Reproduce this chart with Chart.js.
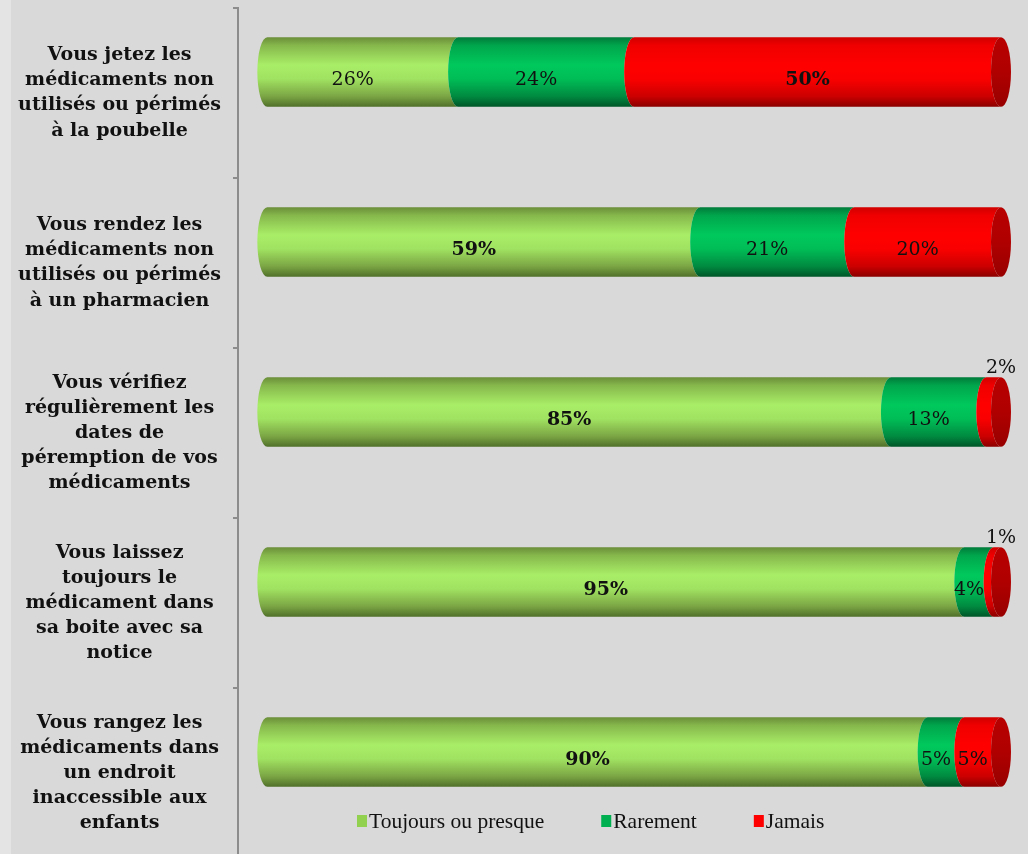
<!DOCTYPE html>
<html lang="fr">
<head>
<meta charset="utf-8">
<title>Médicaments non utilisés</title>
<script src="https://cdn.jsdelivr.net/npm/chart.js@4.4.1/dist/chart.umd.min.js"></script>
<style>
  html, body { margin: 0; padding: 0; overflow: hidden; }
  body { width: 1028px; height: 854px; background: linear-gradient(to right, #e4e4e4 0, #e4e4e4 11px, #d9d9d9 11px); }
  #wrap { position: absolute; left: 0; top: 0; width: 1028px; height: 870px; }
</style>
</head>
<body>
<div id="wrap"><canvas id="chart" width="1028" height="870"></canvas></div>
<script>
// Survey questions (one per bar), split into display lines
const categories = [
  ['Vous jetez les', 'médicaments non', 'utilisés ou périmés', 'à la poubelle'],
  ['Vous rendez les', 'médicaments non', 'utilisés ou périmés', 'à un pharmacien'],
  ['Vous vérifiez', 'régulièrement les', 'dates de', 'péremption de vos', 'médicaments'],
  ['Vous laissez', 'toujours le', 'médicament dans', 'sa boite avec sa', 'notice'],
  ['Vous rangez les', 'médicaments dans', 'un endroit', 'inaccessible aux', 'enfants']
];
const seriesNames = ['Toujours ou presque', 'Rarement', 'Jamais'];
const toujours = [26, 59, 85, 95, 90];
const rarement = [24, 21, 13, 4, 5];
const jamais   = [50, 20, 2, 1, 5];

// Flat colours (legend keys) and cylinder shading per series
const flatColors = ['#92d050', '#00b050', '#ff0000'];
const shades = [
  [[0, '#6a8d39'], [0.12, '#86b84c'], [0.4, '#a9ee67'], [0.6, '#a0e261'], [0.85, '#7ba544'], [1, '#4f6f29']],
  [[0, '#007a3a'], [0.12, '#00a64c'], [0.4, '#00c95c'], [0.6, '#00bd56'], [0.85, '#008a40'], [1, '#005528']],
  [[0, '#d00000'], [0.12, '#f00000'], [0.4, '#ff0000'], [0.6, '#fa0000'], [0.85, '#cc0000'], [1, '#8a0000']]
];
const capShade = [[0, '#b80000'], [0.5, '#b00000'], [1, '#980000']];

const RX = 10;      // horizontal radius of the cylinder ellipses
const DEPTH = 21;   // upward shift of the bars (3D depth)

const cylinderBars = {
  id: 'cylinderBars',
  beforeDatasetsDraw(chart) {
    const ctx = chart.ctx;
    const last = chart.data.datasets.length - 1;
    const labels = [];
    ctx.save();
    chart.data.datasets.forEach((ds, di) => {
      const meta = chart.getDatasetMeta(di);
      meta.data.forEach((el, i) => {
        const p = el.getProps(['x', 'y', 'base', 'height'], true);
        const cy = p.y - DEPTH, ry = p.height / 2;
        const top = cy - ry, bot = cy + ry;
        const g = ctx.createLinearGradient(0, top, 0, bot);
        shades[di].forEach(([o, c]) => g.addColorStop(o, c));
        ctx.beginPath();
        ctx.moveTo(p.base, top);
        ctx.ellipse(p.base, cy, RX, ry, 0, -Math.PI / 2, Math.PI / 2, true);
        ctx.lineTo(p.x, bot);
        ctx.ellipse(p.x, cy, RX, ry, 0, Math.PI / 2, Math.PI * 1.5, false);
        ctx.closePath();
        ctx.fillStyle = g;
        ctx.fill();
        if (di === last) {
          const cg = ctx.createLinearGradient(0, top, 0, bot);
          capShade.forEach(([o, c]) => cg.addColorStop(o, c));
          ctx.beginPath();
          ctx.ellipse(p.x, cy, RX, ry, 0, 0, Math.PI * 2);
          ctx.fillStyle = cg;
          ctx.fill();
        }
        const v = ds.data[i];
        const rowMax = Math.max(...chart.data.datasets.map(d => d.data[i]));
        if (v < 3) {
          labels.push({ text: v + '%', x: p.x, y: top - 9, bold: false });
        } else {
          labels.push({ text: v + '%', x: (p.base + p.x) / 2 - RX, y: cy + 8, bold: v === rowMax });
        }
      });
    });
    ctx.textAlign = 'center';
    ctx.textBaseline = 'middle';
    ctx.fillStyle = '#111';
    labels.forEach(l => {
      ctx.font = (l.bold ? 'bold ' : '') + '19px "DejaVu Serif"';
      ctx.fillText(l.text, l.x, l.y);
    });
    ctx.restore();
    return false;
  },
  afterDraw(chart) {
    // legend row inside the plot, under the last bar
    const ctx = chart.ctx;
    ctx.save();
    ctx.font = '21.5px "Liberation Serif"';
    ctx.textBaseline = 'middle';
    ctx.textAlign = 'left';
    let x = 357;
    const y = 821;
    seriesNames.forEach((name, i) => {
      ctx.fillStyle = flatColors[i];
      ctx.fillRect(x, y - 6, 10, 12);
      ctx.fillStyle = '#111';
      ctx.fillText(name, x + 12, y + 1);
      x += 12 + ctx.measureText(name).width + 57;
    });
    ctx.restore();
  }
};

new Chart(document.getElementById('chart'), {
  type: 'bar',
  data: {
    labels: categories,
    datasets: [
      { label: seriesNames[0], data: toujours, backgroundColor: flatColors[0] },
      { label: seriesNames[1], data: rarement, backgroundColor: flatColors[1] },
      { label: seriesNames[2], data: jamais, backgroundColor: flatColors[2] }
    ]
  },
  options: {
    indexAxis: 'y',
    responsive: false,
    animation: false,
    devicePixelRatio: 1,
    layout: { padding: { top: 8, bottom: 12, right: 5, left: 0 } },
    datasets: { bar: { categoryPercentage: 1, barPercentage: 0.41 } },
    scales: {
      x: { stacked: true, min: -4, max: 103, display: false },
      y: {
        stacked: true,
        afterFit(scale) {
          scale.width = 238;
          scale.paddingTop = 0;
          scale.paddingBottom = 0;
        },
        border: { display: true, color: '#8c8c8c', width: 2 },
        grid: { display: true, drawOnChartArea: false, drawTicks: true, tickLength: 5, color: '#8c8c8c', lineWidth: 2 },
        ticks: {
          crossAlign: 'center',
          padding: 12,
          color: '#111',
          font: { family: '"DejaVu Serif"', size: 19, weight: 'bold', lineHeight: 1.32 }
        }
      }
    },
    plugins: { legend: { display: false }, tooltip: { enabled: false } }
  },
  plugins: [cylinderBars]
});
</script>
</body>
</html>
